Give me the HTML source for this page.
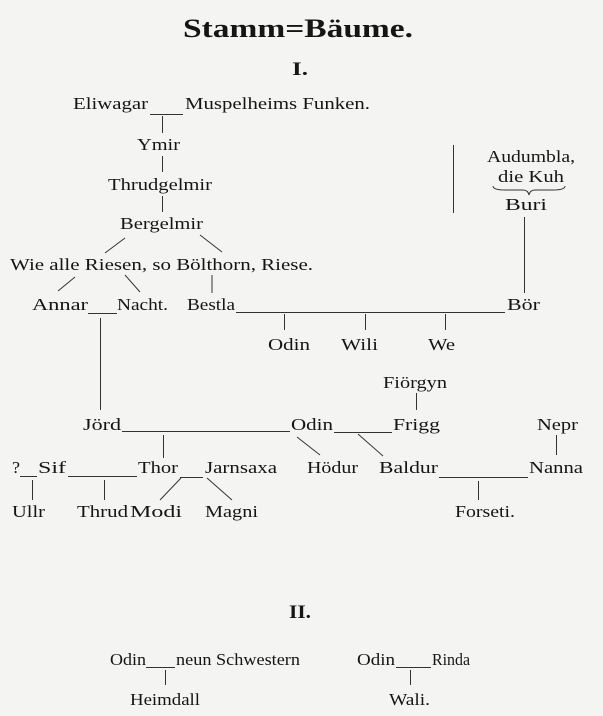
<!DOCTYPE html>
<html><head><meta charset="utf-8"><style>
html,body{margin:0;padding:0;background:#f4f4f2;}
svg{display:block}
text{font-family:"Liberation Serif",serif;font-size:17px;fill:#151515;}
line,path{stroke:#333;stroke-width:1;fill:none}
</style></head><body>
<svg width="603" height="716" viewBox="0 0 603 716" xmlns="http://www.w3.org/2000/svg">
<text x="183" y="37" textLength="230" lengthAdjust="spacingAndGlyphs" style="font-size:26px;font-weight:bold">Stamm=Bäume.</text>
<text x="292" y="75" textLength="16" lengthAdjust="spacingAndGlyphs" style="font-size:19px;font-weight:bold">I.</text>

<text x="73" y="109" textLength="75" lengthAdjust="spacingAndGlyphs">Eliwagar</text>
<line x1="150" y1="114.5" x2="183" y2="114.5"/>
<text x="185" y="109" textLength="185" lengthAdjust="spacingAndGlyphs">Muspelheims Funken.</text>
<line x1="162.5" y1="116" x2="162.5" y2="133"/>
<text x="137" y="150" textLength="43" lengthAdjust="spacingAndGlyphs">Ymir</text>
<line x1="162.5" y1="156" x2="162.5" y2="172"/>
<text x="108" y="190" textLength="104" lengthAdjust="spacingAndGlyphs">Thrudgelmir</text>
<line x1="162.5" y1="196" x2="162.5" y2="212"/>
<text x="120" y="229" textLength="83" lengthAdjust="spacingAndGlyphs">Bergelmir</text>
<line x1="125" y1="238" x2="105" y2="253"/>
<line x1="200" y1="235" x2="222" y2="252"/>
<text x="10" y="270" textLength="303" lengthAdjust="spacingAndGlyphs">Wie alle Riesen, so Bölthorn, Riese.</text>
<line x1="75" y1="277" x2="58" y2="291"/>
<line x1="125" y1="275" x2="140" y2="292"/>
<line x1="212" y1="275" x2="212" y2="293"/>
<text x="32" y="310" textLength="56" lengthAdjust="spacingAndGlyphs">Annar</text>
<line x1="88" y1="313.5" x2="117" y2="313.5"/>
<text x="117" y="310" textLength="51" lengthAdjust="spacingAndGlyphs">Nacht.</text>
<text x="187" y="310" textLength="48" lengthAdjust="spacingAndGlyphs">Bestla</text>
<line x1="236" y1="312.5" x2="505" y2="312.5"/>
<text x="507" y="310" textLength="33" lengthAdjust="spacingAndGlyphs">Bör</text>

<line x1="453.5" y1="145" x2="453.5" y2="213"/>
<text x="487" y="162" textLength="88" lengthAdjust="spacingAndGlyphs">Audumbla,</text>
<text x="498" y="182" textLength="66" lengthAdjust="spacingAndGlyphs">die Kuh</text>
<path d="M493,186 Q493,190 505,190 L523,190 Q528,190 529,195 Q530,190 535,190 L553,190 Q565,190 565,186"/>
<text x="505" y="210" textLength="42" lengthAdjust="spacingAndGlyphs">Buri</text>
<line x1="524.5" y1="217" x2="524.5" y2="293"/>

<line x1="284.5" y1="314" x2="284.5" y2="330"/>
<line x1="365.5" y1="314" x2="365.5" y2="330"/>
<line x1="445.5" y1="314" x2="445.5" y2="330"/>
<text x="268" y="350" textLength="42" lengthAdjust="spacingAndGlyphs">Odin</text>
<text x="341" y="350" textLength="37" lengthAdjust="spacingAndGlyphs">Wili</text>
<text x="428" y="350" textLength="27" lengthAdjust="spacingAndGlyphs">We</text>

<line x1="100.5" y1="318" x2="100.5" y2="410"/>
<text x="383" y="388" textLength="64" lengthAdjust="spacingAndGlyphs">Fiörgyn</text>
<line x1="416.5" y1="393" x2="416.5" y2="410"/>
<text x="83" y="430" textLength="38" lengthAdjust="spacingAndGlyphs">Jörd</text>
<line x1="122" y1="431.5" x2="290" y2="431.5"/>
<text x="291" y="430" textLength="42" lengthAdjust="spacingAndGlyphs">Odin</text>
<line x1="334" y1="432.5" x2="392" y2="432.5"/>
<text x="393" y="430" textLength="47" lengthAdjust="spacingAndGlyphs">Frigg</text>
<text x="537" y="430" textLength="41" lengthAdjust="spacingAndGlyphs">Nepr</text>
<line x1="556.5" y1="435" x2="556.5" y2="455"/>
<line x1="297" y1="437" x2="320" y2="455"/>
<line x1="358" y1="434" x2="383" y2="456"/>
<line x1="163.5" y1="435" x2="163.5" y2="458"/>

<text x="12" y="473" textLength="8" lengthAdjust="spacingAndGlyphs">?</text>
<line x1="20" y1="476.5" x2="37" y2="476.5"/>
<text x="38" y="473" textLength="28" lengthAdjust="spacingAndGlyphs">Sif</text>
<line x1="68" y1="476.5" x2="137" y2="476.5"/>
<text x="138" y="473" textLength="40" lengthAdjust="spacingAndGlyphs">Thor</text>
<line x1="180" y1="477.5" x2="203" y2="477.5"/>
<text x="205" y="473" textLength="72" lengthAdjust="spacingAndGlyphs">Jarnsaxa</text>
<text x="307" y="473" textLength="51" lengthAdjust="spacingAndGlyphs">Hödur</text>
<text x="379" y="473" textLength="59" lengthAdjust="spacingAndGlyphs">Baldur</text>
<line x1="439" y1="477.5" x2="528" y2="477.5"/>
<text x="529" y="473" textLength="54" lengthAdjust="spacingAndGlyphs">Nanna</text>

<line x1="32.5" y1="480" x2="32.5" y2="500"/>
<line x1="104.5" y1="480" x2="104.5" y2="500"/>
<line x1="181" y1="478" x2="160" y2="500"/>
<line x1="207" y1="478" x2="232" y2="500"/>
<line x1="478.5" y1="481" x2="478.5" y2="500"/>
<text x="12" y="517" textLength="33" lengthAdjust="spacingAndGlyphs">Ullr</text>
<text x="77" y="517" textLength="51" lengthAdjust="spacingAndGlyphs">Thrud</text>
<text x="130" y="517" textLength="52" lengthAdjust="spacingAndGlyphs">Modi</text>
<text x="205" y="517" textLength="53" lengthAdjust="spacingAndGlyphs">Magni</text>
<text x="455" y="517" textLength="60" lengthAdjust="spacingAndGlyphs">Forseti.</text>

<text x="289" y="618" textLength="22" lengthAdjust="spacingAndGlyphs" style="font-size:19px;font-weight:bold">II.</text>
<text x="110" y="665" textLength="36" lengthAdjust="spacingAndGlyphs">Odin</text>
<line x1="146" y1="667.5" x2="175" y2="667.5"/>
<text x="176" y="665" textLength="124" lengthAdjust="spacingAndGlyphs">neun Schwestern</text>
<line x1="165.5" y1="670" x2="165.5" y2="685"/>
<text x="130" y="705" textLength="70" lengthAdjust="spacingAndGlyphs">Heimdall</text>
<text x="357" y="665" textLength="38" lengthAdjust="spacingAndGlyphs">Odin</text>
<line x1="396" y1="667.5" x2="431" y2="667.5"/>
<text x="432" y="665" textLength="38" lengthAdjust="spacingAndGlyphs">Rinda</text>
<line x1="410.5" y1="670" x2="410.5" y2="685"/>
<text x="389" y="705" textLength="41" lengthAdjust="spacingAndGlyphs">Wali.</text>
</svg>
</body></html>
